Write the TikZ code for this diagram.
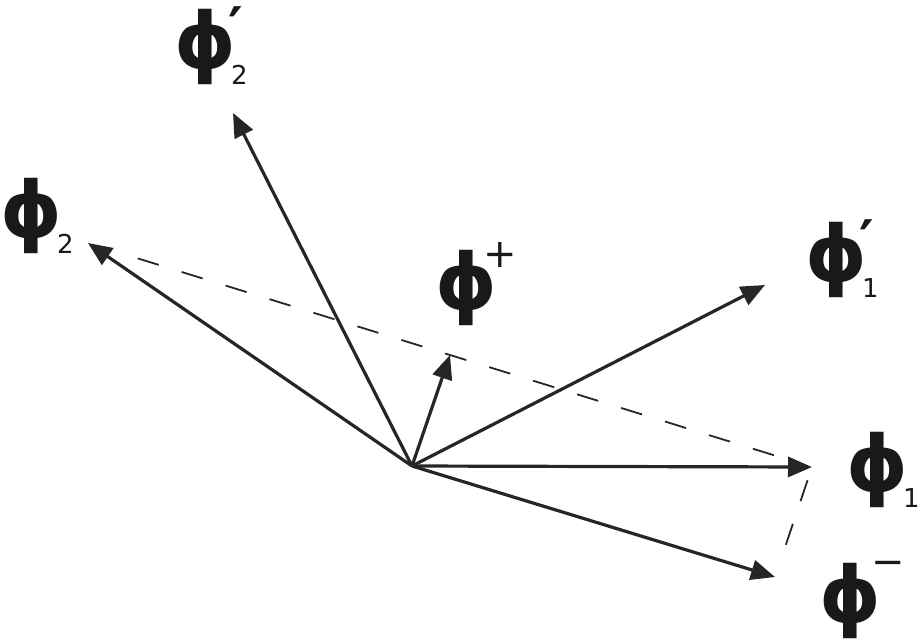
\documentclass[tikz,border=0pt]{standalone}
\usepackage{fontspec}
\setmainfont{DejaVu Sans}
\newfontfamily\phif{DejaVu Sans}
\usetikzlibrary{arrows.meta}
\newlength\phiH
\newlength\phiD
\newlength\phiC
\newlength\prH
\newcommand\PHI{\makebox[30pt][c]{\fontsize{39}{40}\selectfont\bfseries ϕ}}
\newcommand\subd[1]{\kern-2.1pt\raisebox{\dimexpr\phiC-18.75pt\relax}{\fontsize{13}{14}\selectfont #1}}
\newcommand\suppr{\rlap{\kern-3.5pt\raisebox{\dimexpr\phiC+20pt-\prH\relax}{\fontsize{28}{28}\selectfont\bfseries ′}}}
\newcommand\supplus{\kern-6.4pt\raisebox{\dimexpr\phiC+10.3pt\relax}{\fontsize{20}{20}\selectfont +}}
\newcommand\supminus{\kern-4.4pt\raisebox{\dimexpr\phiC+12.8pt\relax}{\fontsize{20}{20}\selectfont −}}
\begin{document}
\settoheight\phiH{\phif\fontsize{39}{40}\selectfont\bfseries ϕ}%
\settodepth\phiD{\phif\fontsize{39}{40}\selectfont\bfseries ϕ}%
\setlength\phiC{\dimexpr(\phiH-\phiD)/2\relax}%
\settoheight\prH{\phif\fontsize{28}{28}\selectfont\bfseries ′}%
\begin{tikzpicture}[x=0.5pt,y=-0.5pt,
  vec/.style={line width=1.6pt, draw=black!85, -{Triangle[length=12pt,width=10pt]}},
  aux/.style={line width=0.9pt, draw=black!85, dash pattern=on 11pt off 12pt},
  lab/.style={font=\phif, inner sep=0pt, text=black!90, anchor=base west, xshift=-15pt, yshift=-\phiC}]
\useasboundingbox (0,0) rectangle (920,643);
% origin and tips
\coordinate (O) at (412,466);
\coordinate (t2) at (88,243);
\coordinate (t2p) at (233,113);
\coordinate (tplus) at (450,355);
\coordinate (t1p) at (765,285);
\coordinate (t1) at (812,467);
\coordinate (tminus) at (775,577);
% dashed auxiliary lines
\draw[aux, shorten <=26pt, shorten >=6pt] (t2) -- (t1);
\draw[aux, shorten <=7pt, shorten >=9pt] (t1) -- (tminus);
% vectors
\foreach \t in {t2,t2p,tplus,t1p,t1,tminus} \draw[vec] (O) -- (\t);
% labels
\node[lab] (p2)  at (31,216)  {\PHI\subd{2}};
\node[lab] (p2p) at (205,47)  {\PHI\suppr\subd{2}};
\node[lab] (pp)  at (466,288) {\PHI\supplus};
\node[lab] (p1p) at (836,260) {\PHI\suppr\subd{1}};
\node[lab] (p1)  at (877,470) {\PHI\subd{1}};
\node[lab] (pm)  at (850,601) {\PHI\supminus};
\end{tikzpicture}
\end{document}
